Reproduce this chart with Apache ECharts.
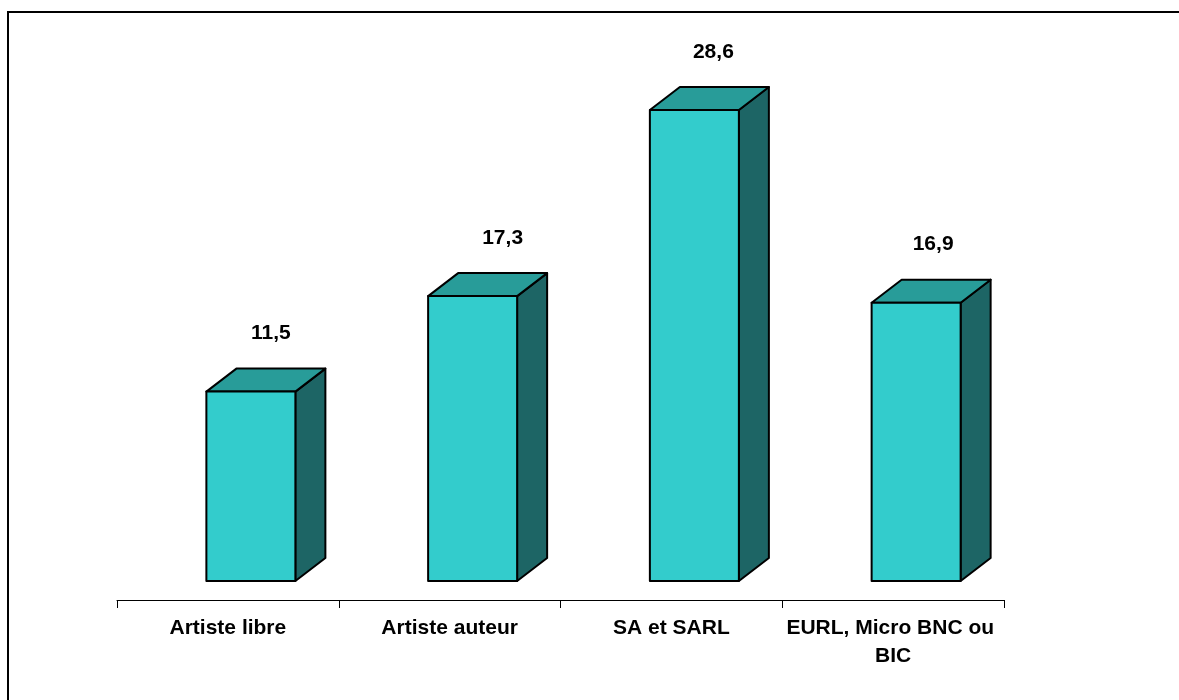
<!DOCTYPE html>
<html>
<head>
<meta charset="utf-8">
<script src="https://cdn.jsdelivr.net/npm/echarts@6/dist/echarts.min.js"></script>
<style>
html,body{margin:0;padding:0;background:#fff;}
#chart{width:1179px;height:700px;}
</style>
</head>
<body>
<div id="chart"></div>
<script>
const categories = ['Artiste libre', 'Artiste auteur', 'SA et SARL', 'EURL, Micro BNC ou BIC'];
const values = [11.5, 17.3, 28.6, 16.9];
const valueLabels = ['11,5', '17,3', '28,6', '16,9'];

const chart = echarts.init(document.getElementById('chart'));
const FONT = '"Liberation Sans", Arial, sans-serif';
const labelShift = [20, 30, 19, 17];

function renderItem(params, api) {
  const idx = api.value(0);
  const base = api.coord([idx, 0]);
  const top = api.coord([idx, api.value(1)]);
  const w = 89, dx = 30, dy = -23, shift = 23;
  const x0 = base[0] + shift - w / 2, x1 = x0 + w;
  const yb = base[1], yt = top[1];
  const stroke = { stroke: '#000', lineWidth: 2, lineJoin: 'round' };
  return {
    type: 'group',
    children: [
      { type: 'polygon', shape: { points: [[x1, yt], [x1 + dx, yt + dy], [x1 + dx, yb + dy], [x1, yb]] },
        style: Object.assign({ fill: '#1D6565' }, stroke) },
      { type: 'polygon', shape: { points: [[x0, yt], [x0 + dx, yt + dy], [x1 + dx, yt + dy], [x1, yt]] },
        style: Object.assign({ fill: '#289C99' }, stroke) },
      { type: 'rect', shape: { x: x0, y: yt, width: w, height: yb - yt },
        style: Object.assign({ fill: '#33CCCC' }, stroke) },
      { type: 'text', x: x0 + w / 2 + labelShift[params.dataIndex], y: yt - 58,
        style: { text: valueLabels[params.dataIndex], font: 'bold 21px ' + FONT, fill: '#000', align: 'center', verticalAlign: 'middle' } }
    ]
  };
}

chart.setOption({
  animation: false,
  backgroundColor: '#fff',
  grid: { left: 117, right: 175, top: 4.6, bottom: 100 },
  xAxis: {
    type: 'category',
    data: categories,
    axisLine: { onZero: false, lineStyle: { color: '#000', width: 1 } },
    axisTick: { show: true, length: 8, lineStyle: { color: '#000' } },
    axisLabel: { interval: 0, margin: 14, color: '#000', fontFamily: FONT, fontWeight: 'bold', fontSize: 21, lineHeight: 28, width: 220, overflow: 'break', align: 'center' }
  },
  yAxis: { type: 'value', min: -1.1536, max: 35, show: false, splitLine: { show: false } },
  series: [{
    type: 'custom',
    renderItem: renderItem,
    data: values.map((v, i) => [i, v]),
    clip: false
  }],
  graphic: [{
    type: 'polyline',
    shape: { points: [[8, 700], [8, 12], [1179, 12]] },
    style: { stroke: '#000', lineWidth: 2, fill: null }
  }]
});
</script>
</body>
</html>
